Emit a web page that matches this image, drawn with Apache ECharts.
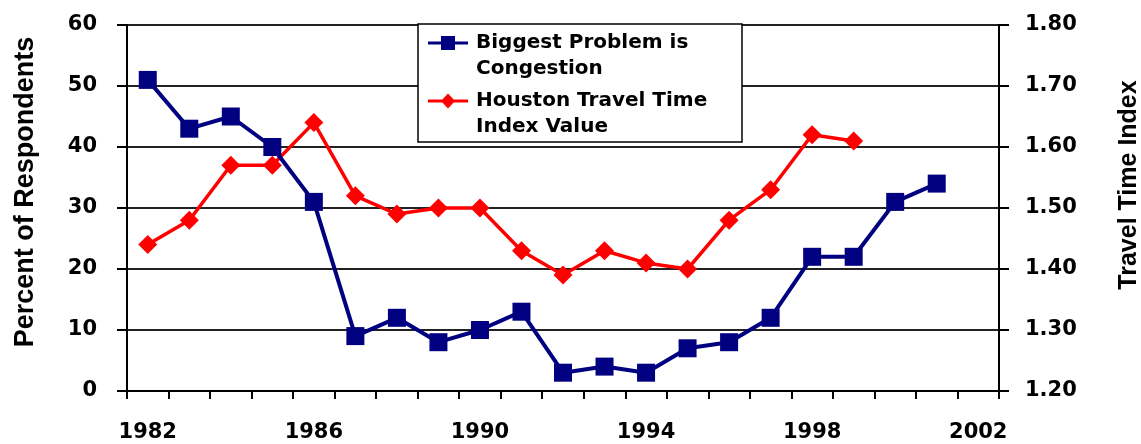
<!DOCTYPE html>
<html>
<head>
<meta charset="utf-8">
<script src="https://cdn.jsdelivr.net/npm/echarts@6/dist/echarts.min.js"></script>
<style>
html, body { margin: 0; padding: 0; background: #fff; }
#box1 { width: 1141px; height: 444px; }
</style>
</head>
<body>
<div id="box1"></div>
<script>
var years = ['1982', '1983', '1984', '1985', '1986', '1987', '1988', '1989', '1990', '1991', '1992',
    '1993', '1994', '1995', '1996', '1997', '1998', '1999', '2000', '2001', '2002'];
var congestion = [51, 43, 45, 40, 31, 9, 12, 8, 10, 13, 3, 4, 3, 7, 8, 12, 22, 22, 31, 34, null];
var travelTime = [1.44, 1.48, 1.57, 1.57, 1.64, 1.52, 1.49, 1.50, 1.50, 1.43, 1.39,
    1.43, 1.41, 1.40, 1.48, 1.53, 1.62, 1.61, null, null, null];
var seriesNames = ['Biggest Problem is\nCongestion', 'Houston Travel Time\nIndex Value'];

var dom = document.getElementById("box1");
var myChart = echarts.init(dom);
var font = 'DejaVu Sans';

// legend icons: line + marker sitting on the first text line (box 40x52)
var iconSquare = 'path://M0 0M40 52M0 11.5L13 11.5L13 6L27 6L27 11.5L40 11.5L40 14.5L27 14.5L27 20L13 20L13 14.5L0 14.5Z';
var iconDiamond = 'path://M0 0M40 52M0 11.5L14.4 11.5L20 5.5L25.6 11.5L40 11.5L40 14.5L25.6 14.5L20 20.5L14.4 14.5L0 14.5Z';

option = {
    backgroundColor: '#fff',
    animation: false,
    grid: {
        left: 127,
        right: 142,
        top: 25,
        bottom: 53,
        containLabel: false,
        outerBoundsMode: 'none'
    },
    legend: {
        left: 418,
        top: 24,
        orient: 'vertical',
        padding: [6, 10, 2, 10],
        itemGap: 6,
        itemWidth: 40,
        itemHeight: 52,
        backgroundColor: '#fff',
        borderColor: '#000',
        borderWidth: 1.5,
        data: [
            { name: seriesNames[0], icon: iconSquare },
            { name: seriesNames[1], icon: iconDiamond }
        ],
        textStyle: {
            fontFamily: font,
            fontWeight: 'bold',
            fontSize: 20,
            lineHeight: 26,
            color: '#000',
            width: 256,
            padding: [0, 0, 0, 3]
        }
    },
    xAxis: [{
        type: 'category',
        data: years,
        boundaryGap: true,
        axisLine: { lineStyle: { color: '#000', width: 2 } },
        axisTick: {
            show: true,
            inside: false,
            length: 8,
            interval: 0,
            lineStyle: { color: '#000', width: 2 }
        },
        axisLabel: {
            interval: 3,
            margin: 31,
            fontFamily: font,
            fontWeight: 'bold',
            fontSize: 21,
            color: '#000'
        },
        splitLine: { show: false }
    }],
    yAxis: [{
        type: 'value',
        min: 0,
        max: 60,
        interval: 10,
        position: 'left',
        name: 'Percent of Respondents',
        nameLocation: 'middle',
        nameRotate: 90,
        nameGap: 88,
        nameTextStyle: {
            fontFamily: 'Liberation Sans',
            fontWeight: 'bold',
            fontSize: 27,
            color: '#000',
            padding: [0, 0, 0, 32]
        },
        axisLine: { show: true, lineStyle: { color: '#000', width: 2 } },
        axisTick: { show: true, inside: false, length: 10, lineStyle: { color: '#000', width: 2 } },
        axisLabel: {
            margin: 30,
            fontFamily: font,
            fontWeight: 'bold',
            fontSize: 21,
            color: '#000'
        },
        splitLine: { show: true, lineStyle: { color: '#222', width: 2 } }
    }, {
        type: 'value',
        min: 1.2,
        max: 1.8,
        interval: 0.1,
        position: 'right',
        name: 'Travel Time Index',
        nameLocation: 'middle',
        nameRotate: 90,
        nameGap: 118,
        nameTextStyle: {
            fontFamily: 'Liberation Sans',
            fontWeight: 'bold',
            fontSize: 25,
            color: '#000',
            padding: [0, 0, 0, 46]
        },
        axisLine: { show: true, lineStyle: { color: '#000', width: 2 } },
        axisTick: { show: true, inside: false, length: 10, lineStyle: { color: '#000', width: 2 } },
        axisLabel: {
            margin: 26,
            fontFamily: font,
            fontWeight: 'bold',
            fontSize: 21,
            color: '#000',
            formatter: function (v) { return v.toFixed(2); }
        },
        splitLine: { show: false }
    }],
    series: [{
        name: seriesNames[0],
        type: 'line',
        yAxisIndex: 0,
        data: congestion,
        symbol: 'rect',
        symbolSize: 18,
        lineStyle: { color: '#000080', width: 4 },
        itemStyle: { color: '#000080' },
        z: 3
    }, {
        name: seriesNames[1],
        type: 'line',
        yAxisIndex: 1,
        data: travelTime,
        symbol: 'diamond',
        symbolSize: 19,
        lineStyle: { color: '#ff0000', width: 3.5 },
        itemStyle: { color: '#ff0000' },
        z: 2
    }]
};
if (option && typeof option === "object") {
    myChart.setOption(option, true);
}
</script>
</body>
</html>
